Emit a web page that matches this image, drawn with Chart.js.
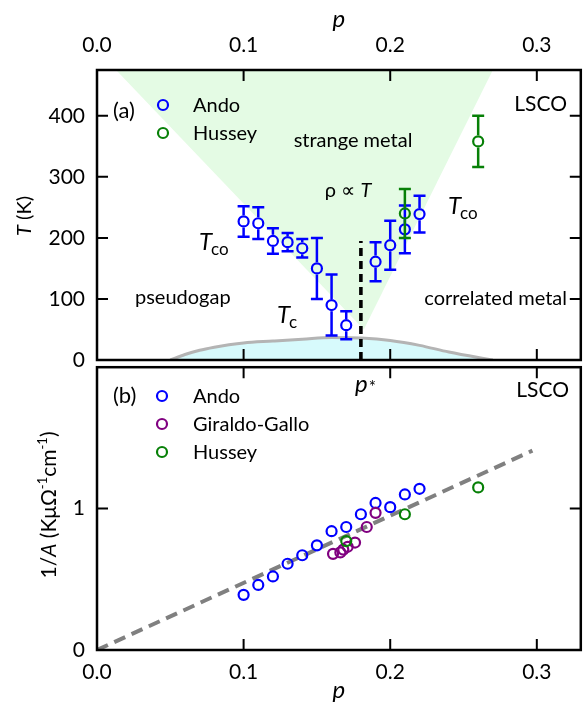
<!DOCTYPE html>
<html>
<head>
<meta charset="utf-8">
<title>LSCO phase diagram</title>
<script src="https://cdn.jsdelivr.net/npm/chart.js@4/dist/chart.umd.min.js"></script>
<style>
  html, body { margin: 0; padding: 0; background: #fff; }
  #wrap { position: relative; width: 588px; height: 702px; overflow: hidden; }
  #phaseChart { position: absolute; left: 0; top: 0; }
  #slopeChart { position: absolute; left: 0; top: 360px; }
</style>
</head>
<body>
<div id="wrap">
  <canvas id="phaseChart" width="588" height="380"></canvas>
  <canvas id="slopeChart" width="588" height="342"></canvas>
</div>
<script>
const FONT = "Lato, 'Open Sans', 'DejaVu Sans', sans-serif";
const BLUE = '#0000ff';
const GREEN = '#078007';
const PURPLE = '#800080';

// axis ticks
const pTicks = [0.0, 0.1, 0.2, 0.3];
const tTicks = [0, 100, 200, 300, 400];
const invATicks = [0, 1];

// (a) crossover temperature T_co against doping
const andoP = [0.10, 0.11, 0.12, 0.13, 0.14, 0.15, 0.16, 0.17, 0.19, 0.20, 0.21, 0.22];
const andoTco = [227, 224, 195, 193, 183, 150, 90, 57, 161, 188, 214, 239];
const andoTcoErr = [25, 26, 21, 15, 15, 50, 50, 23, 32, 40, 39, 30];
const husseyP = [0.21, 0.26];
const husseyTco = [240, 358];
const husseyTcoErr = [40, 42];

// superconducting dome
const domeP = [0.05, 0.06, 0.07, 0.08, 0.09, 0.10, 0.12, 0.14, 0.16, 0.18, 0.20, 0.22, 0.24, 0.26, 0.27];
const domeTc = [0, 9, 16, 21, 25, 28, 31, 34, 37, 36, 32, 24, 13, 4, 0];

// strange metal fan and the p* line
const fanP = [0.013, 0.182, 0.27];
const fanT = [475, 50, 475];
const pStarP = [0.18, 0.18];
const pStarT = [0, 195];

// (b) inverse slope 1/A
const andoP2 = [0.10, 0.11, 0.12, 0.13, 0.14, 0.15, 0.16, 0.17, 0.18, 0.19, 0.20, 0.21, 0.22];
const andoInvA = [0.39, 0.46, 0.52, 0.61, 0.67, 0.74, 0.84, 0.87, 0.96, 1.04, 1.01, 1.10, 1.14];
const giraldoP = [0.161, 0.166, 0.168, 0.171, 0.176, 0.184, 0.190];
const giraldoInvA = [0.68, 0.69, 0.71, 0.73, 0.76, 0.87, 0.97];
const husseyP2 = [0.17, 0.21, 0.26];
const husseyInvA = [0.77, 0.96, 1.15];
const fitP = [0, 0.297];
const fitInvA = [0, 1.41];

const pts = (xs, ys) => xs.map((x, i) => ({ x: x, y: ys[i] }));
const font = (size, italic) => (italic ? 'italic ' : '') + size + 'px ' + FONT;

// draws a row of text pieces (italic / sub / superscripts) starting at x
function richText(ctx, x, y, parts, align) {
    let w = 0;
    parts.forEach(p => {
        ctx.font = font(p.size, p.italic);
        p.w = ctx.measureText(p.t).width;
        w += p.w + (p.dx || 0);
    });
    let cx = align === 'center' ? x - w / 2 : align === 'right' ? x - w : x;
    ctx.textAlign = 'left';
    ctx.textBaseline = 'alphabetic';
    parts.forEach(p => {
        ctx.font = font(p.size, p.italic);
        cx += p.dx || 0;
        ctx.fillText(p.t, cx, y + (p.dy || 0));
        cx += p.w;
    });
}

function vText(ctx, x, y, parts) {
    ctx.save();
    ctx.translate(x, y);
    ctx.rotate(-Math.PI / 2);
    richText(ctx, 0, 0, parts, 'center');
    ctx.restore();
}

function ring(ctx, x, y, color) {
    ctx.beginPath();
    ctx.arc(x, y, 5, 0, Math.PI * 2);
    ctx.strokeStyle = color;
    ctx.lineWidth = 2.2;
    ctx.stroke();
}

// box around the panel with inward ticks on all four sides
const framePlugin = {
    id: 'frame',
    afterDraw(chart) {
        const { ctx, chartArea: a, scales: { x, y } } = chart;
        ctx.save();
        ctx.strokeStyle = '#000';
        ctx.lineWidth = 2.5;
        ctx.strokeRect(a.left, a.top, a.right - a.left, a.bottom - a.top);
        ctx.lineWidth = 2;
        const len = 11;
        ctx.beginPath();
        x.ticks.forEach(t => {
            if (t.value <= x.min) return;
            const px = x.getPixelForValue(t.value);
            ctx.moveTo(px, a.top); ctx.lineTo(px, a.top + len);
            ctx.moveTo(px, a.bottom); ctx.lineTo(px, a.bottom - len);
        });
        y.ticks.forEach(t => {
            if (t.value <= y.min) return;
            const py = y.getPixelForValue(t.value);
            ctx.moveTo(a.left, py); ctx.lineTo(a.left + len, py);
            ctx.moveTo(a.right, py); ctx.lineTo(a.right - len, py);
        });
        ctx.stroke();
        ctx.restore();
    }
};

// vertical error bars with caps, drawn under each scatter dataset
const errorBarPlugin = {
    id: 'errorBars',
    beforeDatasetDraw(chart, args) {
        const ds = chart.data.datasets[args.index];
        if (!ds.errors) return;
        const { ctx } = chart;
        const y = chart.scales.y;
        const r = ds.pointRadius + 1.1;
        ctx.save();
        ctx.strokeStyle = ds.borderColor;
        ctx.lineWidth = 2.5;
        args.meta.data.forEach((pt, i) => {
            const v = ds.data[i].y, e = ds.errors[i];
            const yHi = y.getPixelForValue(v + e);
            const yLo = y.getPixelForValue(v - e);
            ctx.beginPath();
            ctx.moveTo(pt.x, yHi); ctx.lineTo(pt.x, pt.y - r);
            ctx.moveTo(pt.x, pt.y + r); ctx.lineTo(pt.x, yLo);
            ctx.moveTo(pt.x - 6, yHi); ctx.lineTo(pt.x + 6, yHi);
            ctx.moveTo(pt.x - 6, yLo); ctx.lineTo(pt.x + 6, yLo);
            ctx.stroke();
        });
        ctx.restore();
    }
};

function ringSet(label, data, color, order) {
    return {
        label: label, data: data, order: order,
        borderColor: color, pointBorderColor: color,
        backgroundColor: 'rgba(0,0,0,0)', pointBackgroundColor: 'rgba(0,0,0,0)',
        pointRadius: 5, pointBorderWidth: 2.2, showLine: false
    };
}

const tickFont = { family: FONT, size: 21 };
const noGrid = { display: false, drawTicks: false };

// ---------- panel (a) ----------
const phaseLabels = {
    id: 'phaseLabels',
    afterDraw(chart) {
        const ctx = chart.ctx;
        ctx.save();
        ctx.fillStyle = '#000';
        vText(ctx, 31, 216, [{ t: 'T', italic: true, size: 20 }, { t: ' (K)', size: 20 }]);
        richText(ctx, 113, 118, [{ t: '(a)', size: 22 }]);
        ring(ctx, 163, 105, BLUE);
        ring(ctx, 163, 133, GREEN);
        ctx.fillStyle = '#000';
        richText(ctx, 193, 112, [{ t: 'Ando', size: 20 }]);
        richText(ctx, 193, 140, [{ t: 'Hussey', size: 20 }]);
        richText(ctx, 353, 147, [{ t: 'strange metal', size: 20 }], 'center');
        richText(ctx, 348, 197, [{ t: 'ρ ∝ ', size: 20 }, { t: 'T', italic: true, size: 20 }], 'center');
        richText(ctx, 199, 250, [{ t: 'T', italic: true, size: 24 }, { t: 'co', size: 17, dy: 5, dx: -1 }]);
        richText(ctx, 448, 214, [{ t: 'T', italic: true, size: 24 }, { t: 'co', size: 17, dy: 5, dx: -1 }]);
        richText(ctx, 135, 304, [{ t: 'pseudogap', size: 20 }]);
        richText(ctx, 277, 323, [{ t: 'T', italic: true, size: 24 }, { t: 'c', size: 17, dy: 5, dx: -1 }]);
        richText(ctx, 567, 305, [{ t: 'correlated metal', size: 20 }], 'right');
        richText(ctx, 567, 111, [{ t: 'LSCO', size: 21 }], 'right');
        ctx.restore();
    }
};

new Chart(document.getElementById('phaseChart'), {
    type: 'scatter',
    data: {
        datasets: [
            Object.assign(ringSet('Hussey', pts(husseyP, husseyTco), GREEN, 0), { errors: husseyTcoErr }),
            Object.assign(ringSet('Ando', pts(andoP, andoTco), BLUE, 1), { errors: andoTcoErr }),
            {
                label: 'p*', data: pts(pStarP, pStarT), order: 2, showLine: true,
                borderColor: '#000', borderWidth: 3.6, borderDash: [8, 5], pointRadius: 0
            },
            {
                label: 'Tc', data: pts(domeP, domeTc), order: 3, showLine: true,
                borderColor: '#b4b4b4', borderWidth: 3, backgroundColor: '#d7fafc',
                fill: 'origin', cubicInterpolationMode: 'monotone', pointRadius: 0
            },
            {
                label: 'strange metal', data: pts(fanP, fanT), order: 4, showLine: true,
                borderColor: 'rgba(0,0,0,0)', borderWidth: 1, backgroundColor: '#e4fbe4',
                fill: 'end', pointRadius: 0
            }
        ]
    },
    options: {
        responsive: false,
        animation: false,
        layout: { padding: { left: 0, right: 2, top: 0, bottom: 20 } },
        plugins: { legend: { display: false }, tooltip: { enabled: false } },
        scales: {
            x: {
                type: 'linear', position: 'top', min: 0, max: 0.33,
                afterBuildTicks: s => { s.ticks = pTicks.map(v => ({ value: v })); },
                afterFit: s => { s.height = 70; s.paddingLeft = 0; s.paddingRight = 0; },
                grid: noGrid, border: { display: false },
                ticks: {
                    color: '#000', font: tickFont, padding: 12, maxRotation: 0, autoSkip: false,
                    callback: v => v.toFixed(1)
                },
                title: {
                    display: true, text: 'p', color: '#000',
                    font: { family: FONT, size: 24, style: 'italic', lineHeight: 1 },
                    padding: { top: 7, bottom: 0 }
                }
            },
            y: {
                type: 'linear', min: 0, max: 475,
                afterBuildTicks: s => { s.ticks = tTicks.map(v => ({ value: v })); },
                afterFit: s => { s.width = 97; s.paddingTop = 0; s.paddingBottom = 0; },
                grid: noGrid, border: { display: false },
                ticks: { color: '#000', font: tickFont, padding: 12 }
            }
        }
    },
    plugins: [errorBarPlugin, framePlugin, phaseLabels]
});

// ---------- panel (b) ----------
const slopeLabels = {
    id: 'slopeLabels',
    afterDraw(chart) {
        const ctx = chart.ctx;
        ctx.save();
        ctx.fillStyle = '#000';
        vText(ctx, 56, 145, [
            { t: '1/', size: 21 }, { t: 'A', italic: true, size: 21 }, { t: ' (Kμ', size: 21 },
            { t: 'Ω', size: 21 }, { t: '-1', size: 13, dy: -9 }, { t: 'cm', size: 21 },
            { t: '-1', size: 13, dy: -9 }, { t: ')', size: 21 }
        ]);
        richText(ctx, 113, 43, [{ t: '(b)', size: 22 }]);
        ring(ctx, 162, 36, BLUE);
        ring(ctx, 162, 64, PURPLE);
        ring(ctx, 162, 92, GREEN);
        ctx.fillStyle = '#000';
        richText(ctx, 193, 43, [{ t: 'Ando', size: 20 }]);
        richText(ctx, 193, 71, [{ t: 'Giraldo-Gallo', size: 20 }]);
        richText(ctx, 193, 99, [{ t: 'Hussey', size: 20 }]);
        richText(ctx, 355, 32, [{ t: 'p', italic: true, size: 24 }, { t: '*', size: 17, dy: 1, dx: 1 }]);
        richText(ctx, 569, 37, [{ t: 'LSCO', size: 21 }], 'right');
        ctx.restore();
    }
};

new Chart(document.getElementById('slopeChart'), {
    type: 'scatter',
    data: {
        datasets: [
            ringSet('Hussey', pts(husseyP2, husseyInvA), GREEN, 0),
            ringSet('Giraldo-Gallo', pts(giraldoP, giraldoInvA), PURPLE, 1),
            ringSet('Ando', pts(andoP2, andoInvA), BLUE, 2),
            {
                label: 'fit', data: pts(fitP, fitInvA), order: 3, showLine: true,
                borderColor: '#808080', borderWidth: 4, borderDash: [12, 7], pointRadius: 0
            }
        ]
    },
    options: {
        responsive: false,
        animation: false,
        layout: { padding: { left: 0, right: 2, top: 0, bottom: 0 } },
        plugins: { legend: { display: false }, tooltip: { enabled: false } },
        scales: {
            x: {
                type: 'linear', position: 'bottom', min: 0, max: 0.33,
                afterBuildTicks: s => { s.ticks = pTicks.map(v => ({ value: v })); },
                afterFit: s => { s.height = 52; s.paddingLeft = 0; s.paddingRight = 0; },
                grid: noGrid, border: { display: false },
                ticks: {
                    color: '#000', font: tickFont, padding: 10, maxRotation: 0, autoSkip: false,
                    callback: v => v.toFixed(1)
                },
                title: {
                    display: true, text: 'p', color: '#000',
                    font: { family: FONT, size: 24, style: 'italic', lineHeight: 1 },
                    padding: { top: 0, bottom: 0 }
                }
            },
            y: {
                type: 'linear', min: 0, max: 2,
                afterBuildTicks: s => { s.ticks = invATicks.map(v => ({ value: v })); },
                afterFit: s => { s.width = 97; s.paddingTop = 0; s.paddingBottom = 0; },
                grid: noGrid, border: { display: false },
                ticks: { color: '#000', font: tickFont, padding: 12 }
            }
        }
    },
    plugins: [framePlugin, slopeLabels]
});
</script>
</body>
</html>
